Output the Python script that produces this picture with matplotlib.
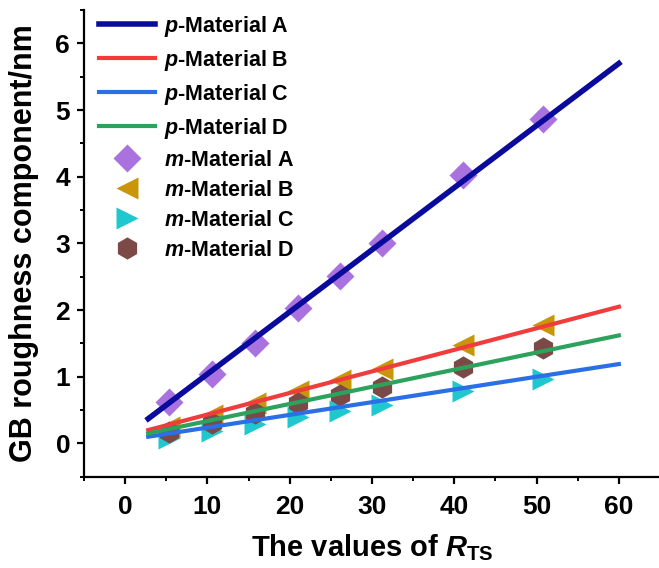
import matplotlib
matplotlib.use('Agg')
import matplotlib.pyplot as plt

plt.rcParams['font.family'] = ['Liberation Sans', 'DejaVu Sans']
plt.rcParams['font.weight'] = 'bold'
plt.rcParams['axes.labelweight'] = 'bold'
plt.rcParams['mathtext.fontset'] = 'custom'
plt.rcParams['mathtext.it'] = 'Liberation Sans:bold:italic'
plt.rcParams['mathtext.rm'] = 'Liberation Sans:bold'
plt.rcParams['mathtext.bf'] = 'Liberation Sans:bold'

# fitted lines (p-) : start / end of R_TS range
fit_x = [2.8, 60.0]
fit_A = [0.37, 5.70]
fit_B = [0.20, 2.05]
fit_C = [0.10, 1.19]
fit_D = [0.15, 1.62]

# measured points (m-)
rts = [5.3, 10.6, 15.8, 21.0, 26.1, 31.2, 41.1, 50.8]
m_A = [0.62, 1.04, 1.51, 2.03, 2.51, 3.00, 4.02, 4.87]
m_B = [0.25, 0.43, 0.60, 0.78, 0.95, 1.12, 1.47, 1.78]
m_C = [0.08, 0.18, 0.29, 0.39, 0.49, 0.58, 0.79, 0.97]
m_D = [0.17, 0.30, 0.45, 0.60, 0.73, 0.85, 1.14, 1.43]

fig = plt.figure(figsize=(6.59, 5.68), dpi=100)
ax = fig.add_axes([0.1275, 0.1607, 0.874, 0.8215])

# markers under the lines
pA, = ax.plot(rts, m_A, 'D', color='#a972de', ms=14.5, mec='none', zorder=2)
pB, = ax.plot(rts, m_B, '<', color='#c9960a', ms=16, mec='none', zorder=2)
pC, = ax.plot(rts, m_C, '>', color='#1fc8cf', ms=16, mec='none', zorder=2)
pD, = ax.plot(rts, m_D, 'h', color='#7b4a47', ms=16, mec='none', zorder=2.5)

lA, = ax.plot(fit_x, fit_A, color='#0a0a9c', lw=4, zorder=3)
lB, = ax.plot(fit_x, fit_B, color='#f03c3c', lw=3, zorder=3)
lC, = ax.plot(fit_x, fit_C, color='#2a6fe6', lw=3, zorder=3)
lD, = ax.plot(fit_x, fit_D, color='#2ca25c', lw=3, zorder=3)

ax.set_xlim(-5, 65)
ax.set_ylim(-0.5, 6.5)
ax.set_xticks(range(0, 61, 10))
ax.set_xticks(range(-5, 66, 10), minor=True)
ax.set_yticks(range(0, 7))
ax.set_yticks([i + 0.5 for i in range(-1, 7)], minor=True)

for s in ['top', 'right']:
    ax.spines[s].set_visible(False)
for s in ['left', 'bottom']:
    ax.spines[s].set_linewidth(1.6)

ax.tick_params(which='major', direction='out', length=5, width=1.6,
               labelsize=19, pad=5)
ax.tick_params(axis='x', which='major', pad=8)
ax.tick_params(which='minor', direction='out', length=3, width=1.4)

ax.set_xlabel(r'The values of $R_{\mathrm{TS}}$', fontsize=21, labelpad=10)
ax.set_ylabel('GB roughness component/nm', fontsize=22, labelpad=12)

handles = [lA, lB, lC, lD, pA, pB, pC, pD]
labels = ['$p$-Material A', '$p$-Material B', '$p$-Material C', '$p$-Material D',
          '$m$-Material A', '$m$-Material B', '$m$-Material C', '$m$-Material D']
ax.legend(handles, labels, loc='upper left', bbox_to_anchor=(0.0, 1.025),
          frameon=False, fontsize=15.5, handlelength=2.6, handletextpad=0.4,
          labelspacing=0.42, borderaxespad=0.3)

fig.savefig('out.png', dpi=100)
